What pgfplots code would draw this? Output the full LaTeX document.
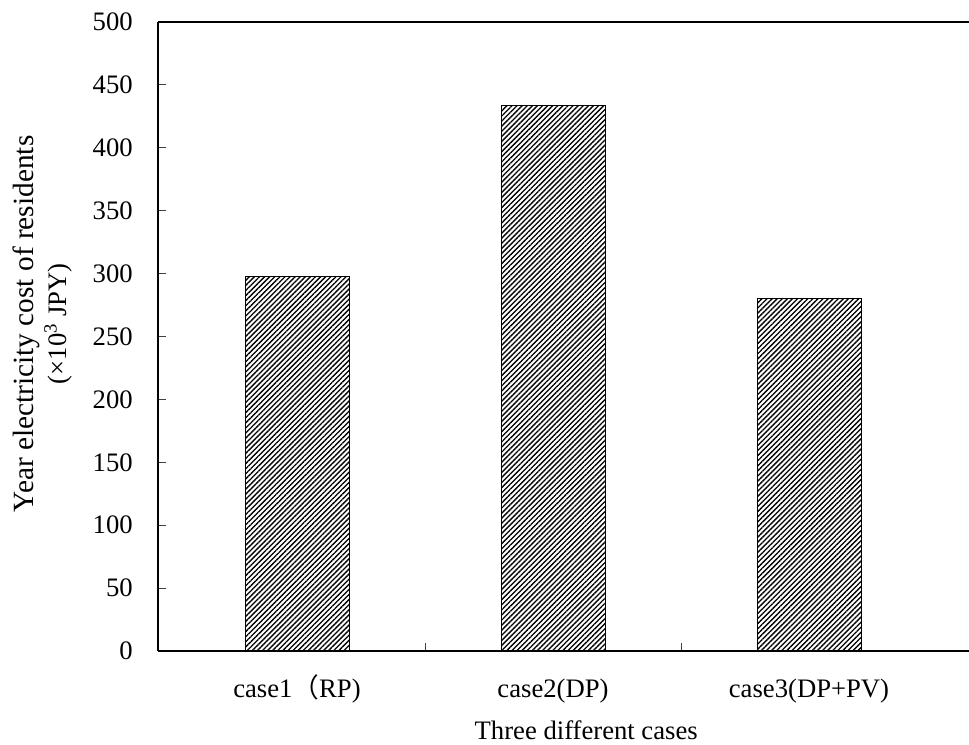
\documentclass[border=0pt]{standalone}
\usepackage{pgfplots}
\pgfplotsset{compat=1.18}
\usepackage{fontspec}
\setmainfont{Liberation Serif}
\newfontfamily\cjk{Noto Sans CJK SC}
\usetikzlibrary{patterns.meta}
\begin{document}
\begin{tikzpicture}[font=\fontsize{20}{24}\selectfont]
\begin{axis}[
  scale only axis, width=608.25pt, height=471.75pt,
  xmin=-0.543, xmax=2.625, ymin=0, ymax=500,
  axis x line*=bottom, axis y line*=left,
  axis line style={line width=1.5pt},
  /pgf/number format/assume math mode=true,
  ytick={0,50,...,500},
  xtick={0.5,1.5}, xticklabels={},
  extra x ticks={0,1,2},
  extra x tick labels={case1{\cjk （}RP), case2(DP), case3(DP+PV)},
  extra x tick style={major tick length=0pt},
  tick align=inside,
  major tick length=6pt,
  tick style={line width=0.75pt, color=black!75},
  yticklabel style={anchor=east, inner sep=0pt, xshift=-18.75pt},
  xticklabel style={anchor=base, inner sep=0pt, yshift=-35pt},
  ylabel={{\fontsize{22}{26}\selectfont Year electricity cost of residents}\\[1pt](×10\textsuperscript{3} JPY)},
  ylabel style={at={(axis description cs:-0.1425,0.52)}, anchor=center, rotate=0, align=center},
  xlabel={Three different cases},
  xlabel style={at={(axis description cs:0.528,-0.1415)}, anchor=base},
  after end axis/.code={\draw[line width=1.5pt] (rel axis cs:0,1) -- (rel axis cs:1,1);},
]
\addplot[ybar, bar width=78pt, draw=black, line width=0.6pt,
  pattern={Lines[angle=45, distance=2.7pt, line width=1pt]}]
  coordinates {(0,298) (1,434) (2,280)};
\coordinate (SW) at (rel axis cs:0,0);
\coordinate (NE) at (rel axis cs:1,1);
\end{axis}
\pgfresetboundingbox
\path ([xshift=-118.5pt,yshift=-70.5pt]SW) rectangle ([yshift=16.5pt]NE);
\end{tikzpicture}
\end{document}
